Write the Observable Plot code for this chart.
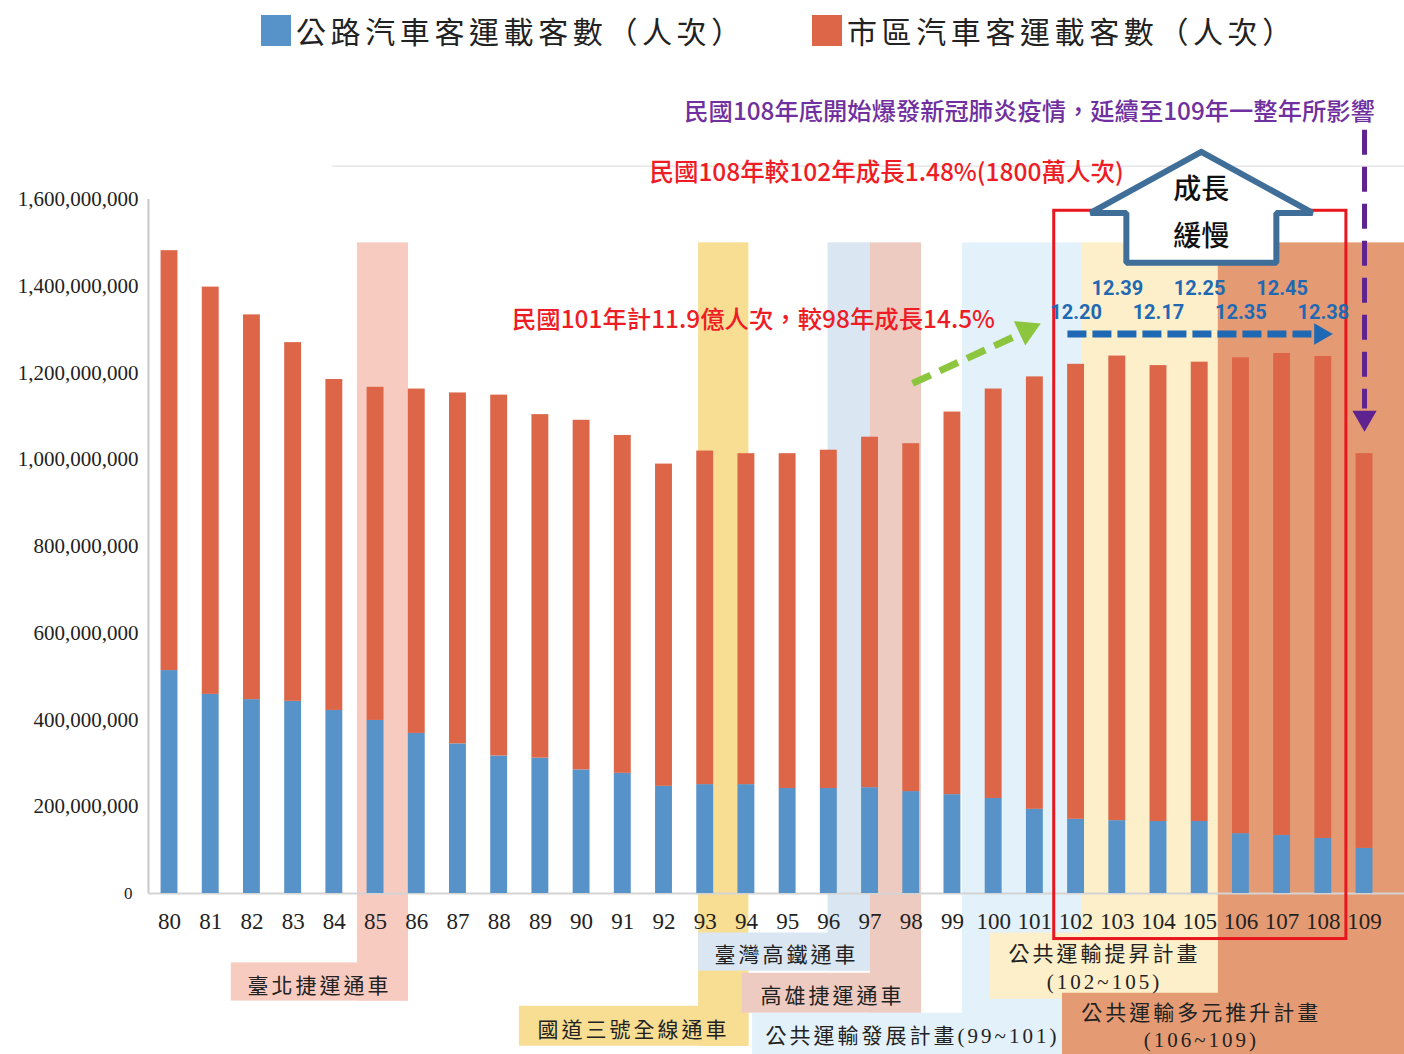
<!DOCTYPE html>
<html>
<head>
<meta charset="utf-8">
<script src="https://cdn.jsdelivr.net/npm/d3@7"></script>
<script src="https://cdn.jsdelivr.net/npm/@observablehq/plot@0.6"></script>
<style>
  html, body { margin: 0; padding: 0; background: #fff; }
  body { width: 1404px; height: 1054px; overflow: hidden; }
  #legend { position: relative; height: 60px; }
  .item { position: absolute; top: 8px; display: flex; align-items: center;
          font-family: "Liberation Serif", "Noto Sans CJK TC", serif; font-size: 30px;
          letter-spacing: 4.6px; color: #222; white-space: nowrap; }
  .sw { width: 30px; height: 31px; margin-right: 5px; }
  #chart svg { display: block; }
  g[aria-description="bandlabel"] text { letter-spacing: 3px; }
</style>
</head>
<body>
<div id="legend"></div>
<div id="chart"></div>
<script>
// ---------------- data ----------------
const UNIT = 1e6; // values below in millions of passengers
const years = [80,81,82,83,84,85,86,87,88,89,90,91,92,93,94,95,96,97,98,99,100,101,102,103,104,105,106,107,108,109];
// 公路汽車客運載客數 (bottom, blue)
const highway = [514,459,447,443,422,399,369,345,317,312,285,277,247,251,251,242,242,244,235,228,219,194,171,168,166,166,138,134,127,104];
// 市區汽車客運載客數 (top, orange)
const city = [968,939,887,827,763,768,794,809,832,792,806,779,743,769,763,772,780,808,802,882,944,997,1049,1071,1051,1059,1097,1111,1111,910];
const seriesNames = ["公路汽車客運載客數（人次）", "市區汽車客運載客數（人次）"];
const yTicks = [0, 200e6, 400e6, 600e6, 800e6, 1000e6, 1200e6, 1400e6, 1600e6];
const highlightYears = [102,103,104,105,106,107,108];

const bandNames = ["臺北捷運通車", "國道三號全線通車", "臺灣高鐵通車", "高雄捷運通車",
  "公共運輸發展計畫(99~101)", "公共運輸提昇計畫\n(102~105)", "公共運輸多元推升計畫\n(106~109)"];

const noteCovid = "民國108年底開始爆發新冠肺炎疫情，延續至109年一整年所影響";
const noteGrowth108 = "民國108年較102年成長1.48%(1800萬人次)";
const noteGrowth101 = "民國101年計11.9億人次，較98年成長14.5%";
const noteSlow = ["成長", "緩慢"];

// ---------------- layout / styles ----------------
const colors = ["#5793c9", "#dd6548"];
const xDomain = [79.49, 109.97];
const halfBar = 0.205;
const bandLayout = [
  {x1: 84.56, x2: 85.80, bx1: 81.50, bx2: 85.80, b1: -160e6, b2: -248e6, fill: "#f8cbc1", tx: 83.64, ty: -209e6},
  {x1: 92.84, x2: 94.06, bx1: 88.49, bx2: 94.06, b1: -260e6, b2: -352e6, fill: "#f7de93", tx: 91.26, ty: -311e6},
  {x1: 95.98, x2: 97.01, bx1: 92.84, bx2: 97.01, b1: -91e6,  b2: -179e6, fill: "#dae6f2", tx: 94.97, ty: -137e6},
  {x1: 97.01, x2: 98.25, bx1: 93.90, bx2: 98.25, b1: -184e6, b2: -276e6, fill: "#eecbc0", tx: 96.09, ty: -232e6},
  {x1: 99.24, x2: 102.15, bx1: 94.15, bx2: 101.67, b1: -276e6, b2: -373e6, fill: "#e2f1fa", tx: 98.03, ty: -324e6},
  {x1: 102.15, x2: 105.45, bx1: 99.92, bx2: 105.45, b1: -91e6, b2: -244e6, fill: "#fcefca", tx: 102.69, ty: -168e6},
  {x1: 105.45, x2: 109.97, bx1: 101.67, bx2: 109.97, b1: -230e6, b2: -373e6, fill: "#e49b74", tx: 105.04, ty: -303e6}
];
const stripTop = 1.5e9;

// ---------------- legend ----------------
const legend = d3.select("#legend");
[[261, 0], [812, 1]].forEach(([left, i]) => {
  const it = legend.append("div").attr("class", "item").style("left", left + "px");
  it.append("div").attr("class", "sw").style("background", colors[i]);
  it.append("span").text(seriesNames[i]);
});

// ---------------- derived tables ----------------
const rows = years.map((y, i) => ({
  year: y, hw: highway[i] * UNIT, ct: city[i] * UNIT, total: (highway[i] + city[i]) * UNIT
}));
const bands = bandLayout.map((b, i) => ({...b, name: bandNames[i]}));
const hiRows = rows.filter(r => highlightYears.includes(r.year))
  .map((r, i) => ({...r, label: (r.total / 1e8).toFixed(2), row: i % 2}));

const houseX = 105.04;
const housePts = [
  {x: houseX, y: 1.710e9}, {x: 107.74, y: 1.569e9}, {x: 106.86, y: 1.569e9},
  {x: 106.86, y: 1.454e9}, {x: 103.22, y: 1.454e9}, {x: 103.22, y: 1.569e9},
  {x: 102.35, y: 1.569e9}, {x: houseX, y: 1.710e9}
];

const cjkSans = "'Noto Sans CJK TC', 'Noto Sans', sans-serif";
const serifMix = "'Liberation Serif', 'Noto Sans CJK TC', serif";
const one = [0];

const plot = Plot.plot({
  width: 1404, height: 994,
  marginLeft: 148, marginRight: 0, marginTop: 139, marginBottom: 161,
  x: {type: "linear", domain: xDomain, axis: null},
  y: {domain: [0, 1.6e9], axis: null},
  style: {background: "transparent", overflow: "visible"},
  marks: [
    // background strips and label boxes
    Plot.rect(bands, {x1: "x1", x2: "x2", y1: "b2", y2: stripTop, fill: d => d.fill}),
    Plot.rect(bands, {x1: "bx1", x2: "bx2", y1: "b2", y2: "b1", fill: d => d.fill}),
    Plot.text(bands, {x: "tx", y: "ty", text: "name", fontSize: 21, fontFamily: serifMix,
      fill: "#222", lineHeight: 1.3, ariaDescription: "bandlabel"}),
    // faint panel line
    Plot.ruleY([1.677e9], {x1: 83.96, x2: xDomain[1], stroke: "#d9d9d9", strokeWidth: 1}),
    // axes lines
    Plot.ruleX([xDomain[0]], {y1: 0, y2: 1.6e9, stroke: "#c8c8c8", strokeWidth: 2}),
    Plot.ruleY([0], {stroke: "#d4d4d4", strokeWidth: 2}),
    // stacked bars
    Plot.rect(rows, {x1: d => d.year - halfBar, x2: d => d.year + halfBar, y1: 0, y2: "hw", fill: colors[0]}),
    Plot.rect(rows, {x1: d => d.year - halfBar, x2: d => d.year + halfBar, y1: "hw", y2: "total", fill: colors[1]}),
    // red highlight box
    Plot.rect(one, {x1: 101.47, x2: 108.56, y1: -105e6, y2: 1.574e9, fill: "none", stroke: "#e8161d", strokeWidth: 3}),
    // house-shaped arrow
    Plot.line(housePts, {x: "x", y: "y", fill: "white", stroke: "#3f6e98", strokeWidth: 6, strokeLinejoin: "miter"}),
    Plot.text(noteSlow, {x: houseX, y: (d, i) => i === 0 ? 1.622e9 : 1.514e9, text: d => d,
      fontSize: 28, fontFamily: cjkSans, fill: "#111", fontWeight: 500}),
    // blue dashed arrow
    Plot.link(one, {x1: 101.79, x2: 107.74, y1: 1.290e9, y2: 1.290e9, stroke: "#1f69b4", strokeWidth: 7, strokeDasharray: "19,6"}),
    Plot.dot(one, {x: 107.93, y: 1.290e9, symbol: "triangle", r: 8, rotate: 90, fill: "#1f69b4", stroke: "none"}),
    // green dashed arrow
    Plot.link(one, {x1: 98.03, y1: 1.176e9, x2: 100.53, y2: 1.285e9, stroke: "#8cc63f", strokeWidth: 7, strokeDasharray: "20,10"}),
    Plot.dot(one, {x: 100.80, y: 1.299e9, symbol: "triangle", r: 10, rotate: 65, fill: "#8cc63f", stroke: "none"}),
    // purple dashed arrow
    Plot.link(one, {x1: 109, x2: 109, y1: 1.761e9, y2: 1.118e9, stroke: "#5f2390", strokeWidth: 5, strokeDasharray: "25,12"}),
    Plot.dot(one, {x: 109, y: 1.097e9, symbol: "triangle", r: 9, rotate: 180, fill: "#5f2390", stroke: "none"}),
    // annotation texts
    Plot.text([noteCovid], {x: 109.25, y: 1.802e9, text: d => d, textAnchor: "end", fontSize: 24.3,
      fontFamily: cjkSans, fill: "#7030a0", fontWeight: 500}),
    Plot.text([noteGrowth108], {x: 97.40, y: 1.661e9, text: d => d, fontSize: 24.5,
      fontFamily: cjkSans, fill: "#ee1c25", fontWeight: 500}),
    Plot.text([noteGrowth101], {x: 94.17, y: 1.322e9, text: d => d, fontSize: 24.4,
      fontFamily: cjkSans, fill: "#ee1c25", fontWeight: 500}),
    Plot.text(hiRows, {x: "year", y: d => d.row === 0 ? 1.340e9 : 1.394e9, text: "label",
      fontSize: 20, fontFamily: "Roboto, 'Noto Sans', sans-serif", fontWeight: "bold", fill: "#1f69b4"}),
    // axes labels
    Plot.axisX(years, {tickSize: 0, tickPadding: 19, tickFormat: d => String(d), fontSize: 23,
      fontFamily: "'Liberation Serif', serif", fill: "#222", label: null}),
    Plot.axisY(yTicks.filter(d => d > 0), {tickSize: 0, tickPadding: 10, tickFormat: d3.format(","),
      fontSize: 21, fontFamily: "'Liberation Serif', serif", fill: "#222", label: null}),
    Plot.axisY([0], {tickSize: 0, tickPadding: 16, tickFormat: d => String(d),
      fontSize: 17, fontFamily: "'Liberation Serif', serif", fill: "#222", label: null})
  ]
});
document.getElementById("chart").appendChild(plot);
</script>
</body>
</html>
